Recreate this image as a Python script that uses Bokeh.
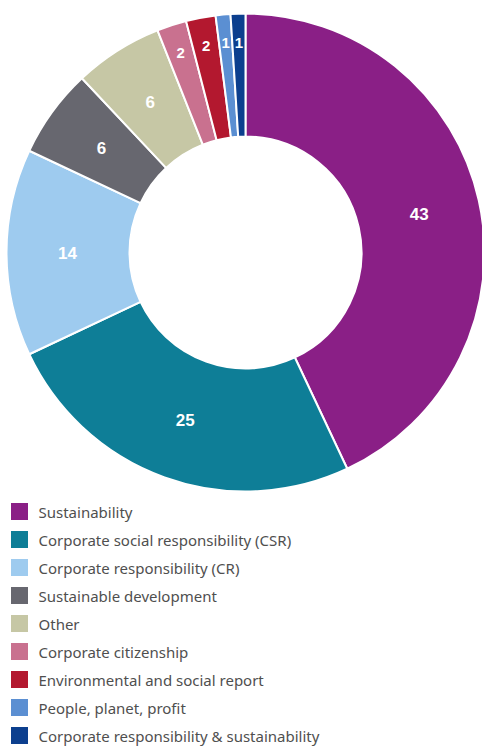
import math
from bokeh.plotting import figure
from bokeh.models import Range1d, ColumnDataSource
from bokeh.core.properties import value
from bokeh.embed import file_html
from bokeh.resources import INLINE

# ---- data ----
categories = [
    "Sustainability",
    "Corporate social responsibility (CSR)",
    "Corporate responsibility (CR)",
    "Sustainable development",
    "Other",
    "Corporate citizenship",
    "Environmental and social report",
    "People, planet, profit",
    "Corporate responsibility & sustainability",
]
values = [43, 25, 14, 6, 6, 2, 2, 1, 1]
colors = ["#8a1f86", "#0e7e97", "#9ecbef", "#67676f", "#c6c7a5",
          "#c9718f", "#b3182f", "#5b8fd2", "#0c3f8e"]

W, H = 482, 749
CX, CY = 245, H - 252
R_OUT, R_IN = 239, 116

total = sum(values)
starts, ends, mids = [], [], []
cum = 0
for v in values:
    a0 = math.pi / 2 - 2 * math.pi * cum / total
    cum += v
    a1 = math.pi / 2 - 2 * math.pi * cum / total
    starts.append(a0)
    ends.append(a1)
    mids.append((a0 + a1) / 2)

label_r = [210 if v <= 2 else 178 for v in values]
lx = [CX + r * math.cos(m) for r, m in zip(label_r, mids)]
ly = [CY + r * math.sin(m) for r, m in zip(label_r, mids)]
label_size = ["15px" if v <= 2 else "17px" for v in values]

p = figure(width=W, height=H, output_backend="svg", toolbar_location=None,
           x_range=Range1d(0, W), y_range=Range1d(0, H),
           min_border=0, min_border_left=0, min_border_right=0,
           min_border_top=0, min_border_bottom=0)
p.axis.visible = False
p.grid.visible = False
p.outline_line_color = None
p.background_fill_color = "white"
p.border_fill_color = "white"

src = ColumnDataSource(dict(start=starts, end=ends, color=colors,
                            cat=categories, val=values, size=label_size,
                            lx=lx, ly=ly, txt=[str(v) for v in values]))
p.annular_wedge(x=CX, y=CY, inner_radius=R_IN, outer_radius=R_OUT,
                start_angle="start", end_angle="end", direction="clock",
                fill_color="color", line_color="white", line_width=2,
                source=src)
p.text(x="lx", y="ly", text="txt", source=src, text_color="white",
       text_font=value("Liberation Sans"), text_font_style="bold",
       text_font_size="size", text_align="center", text_baseline="middle")

# legend
n = len(categories)
leg_y = [H - (511 + 28 * i) for i in range(n)]
leg_src = ColumnDataSource(dict(x=[19] * n, y=leg_y, tx=[38] * n,
                                color=colors, cat=categories))
p.rect(x="x", y="y", width=17, height=17, fill_color="color",
       line_color=None, source=leg_src)
p.text(x="tx", y="y", text="cat", source=leg_src, text_color="#4f4f4f",
       text_font=value("Noto Sans"), text_font_size="15px",
       text_align="left", text_baseline="middle")

open("out.html", "w").write(file_html(p, INLINE))
